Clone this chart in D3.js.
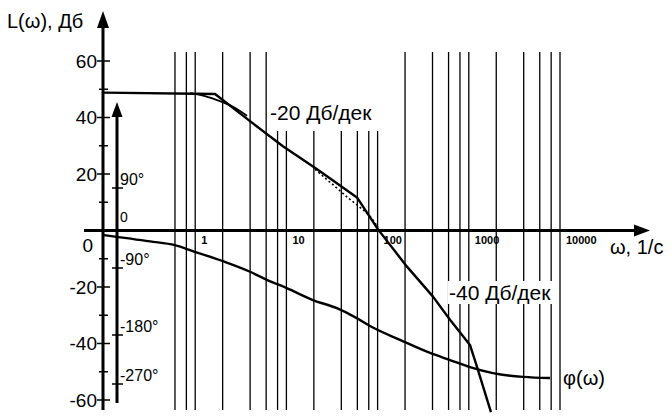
<!DOCTYPE html>
<html><head><meta charset="utf-8">
<script src="https://cdn.jsdelivr.net/npm/d3@7"></script>
<style>body{margin:0;background:#fff} svg{display:block} text{font-family:"Liberation Sans",Arial,sans-serif;fill:#000}</style>
</head><body><svg id="c" width="671" height="419"></svg>
<script>
// ---- data ----
const gridOmega = [0.6, 0.8, 1, 2, 4, 6, 8, 10, 20, 40, 60, 80, 100, 200, 400, 600, 800, 1000, 2000, 4000, 6000, 8000, 10000];
const decadeValues = [1, 10, 100, 1000, 10000];
const decadeLabels = ["1", "10", "100", "1000", "10000"];
const lMajorTicks = [60, 40, 20, 0, -20, -40, -60];
const lMinorTicks = [50, 30, 10, -10, -30, -50];
const phiTicks = [90, 0, -90, -180, -270];
const phiTickLabels = ["90°", "0", "-90°", "-180°", "-270°"];

// asymptotic LAFC
const asymOmega = [0.1, 1.65, 3.99, 9.16, 21.7, 59.4, 101, 210, 405, 622, 1030, 1230, 1750];
const asymL     = [48.8, 48.3, 38.7, 29.8, 21.7, 11.7, 0.4, -12.8, -23.4, -31.6, -40.5, -48.3, -64.3];
// true curve near first corner
const trueOmega = [0.88, 1.28, 1.87, 2.6, 3.7];
const trueL     = [48.6, 47.6, 45.8, 43.8, 40.6];
// true curve near second corner (dotted)
const dotOmega = [20.6, 25.2, 34.1, 49.8, 64.1, 82.5, 101];
const dotL     = [21.7, 19.2, 15.6, 11.0, 8.2, 5.0, 1.1];
// phase
const phiOmega = [0.1, 0.32, 0.6, 0.97, 2.02, 3.99, 6.12, 10.1, 19.5, 35.8, 56.4, 82.5, 176, 376, 622, 1030, 1840, 3930, 7760];
const phiDeg   = [-12, -27, -36, -51, -74, -95, -106, -117, -133, -144, -156, -168, -189, -213, -226, -239, -250, -257, -259];

// ---- scales ----
const svg = d3.select("#c");
const x = d3.scaleLog().domain([0.1, 10000]).range([104, 560]);
const yL = d3.scaleLinear().domain([-60, 60]).range([400, 61]);
const yPhi = d3.scaleLinear().domain(phiTicks).range([188, 230, 268, 335, 384]);

// grid
svg.append("g").selectAll("line").data(gridOmega).join("line")
  .attr("x1", d => x(d)).attr("x2", d => x(d))
  .attr("y1", 52).attr("y2", 410)
  .attr("stroke", "#000").attr("stroke-width", 1.3);

// label backgrounds
const bg = svg.append("g");
bg.append("rect").attr("x", 271).attr("y", 48).attr("width", 111).attr("height", 83).attr("fill", "#fff");

// curves
const line = d3.line();
function pts(om, v, ys) { return om.map((o, i) => [x(o), ys(v[i])]); }

svg.append("path").attr("d", d3.line().curve(d3.curveMonotoneX)(pts(phiOmega, phiDeg, yPhi)))
  .attr("fill", "none").attr("stroke", "#000").attr("stroke-width", 2.4);
svg.append("path").attr("d", line(pts(asymOmega, asymL, yL)))
  .attr("fill", "none").attr("stroke", "#000").attr("stroke-width", 2.4).attr("stroke-linejoin", "round");
svg.append("path").attr("d", d3.line().curve(d3.curveMonotoneX)(pts(trueOmega, trueL, yL)))
  .attr("fill", "none").attr("stroke", "#000").attr("stroke-width", 1.8);
svg.append("path").attr("d", d3.line().curve(d3.curveMonotoneX)(pts(dotOmega, dotL, yL)))
  .attr("fill", "none").attr("stroke", "#000").attr("stroke-width", 1.6).attr("stroke-dasharray", "2,2.5");

// x axis
const y0 = yL(0);
svg.append("line").attr("x1", 84).attr("x2", 636).attr("y1", y0).attr("y2", y0)
  .attr("stroke", "#000").attr("stroke-width", 3);
svg.append("path").attr("d", `M650,${y0} L634,${y0-6} L634,${y0+6} Z`).attr("fill", "#000");
svg.append("g").selectAll("text").data(decadeValues).join("text")
  .attr("x", d => x(d) + 6).attr("y", y0 + 13)
  .attr("font-size", 11).attr("font-weight", "bold")
  .text((d, i) => decadeLabels[i]);

// L axis
svg.append("line").attr("x1", 103).attr("x2", 103).attr("y1", 410).attr("y2", 24)
  .attr("stroke", "#000").attr("stroke-width", 3);
svg.append("path").attr("d", "M103,11 L97,28 L109,28 Z").attr("fill", "#000");
svg.append("g").selectAll("line").data(lMajorTicks).join("line")
  .attr("x1", 97).attr("x2", 110).attr("y1", d => yL(d)).attr("y2", d => yL(d))
  .attr("stroke", "#000").attr("stroke-width", 1.5);
svg.append("g").selectAll("line").data(lMinorTicks).join("line")
  .attr("x1", 99).attr("x2", 108).attr("y1", d => yL(d)).attr("y2", d => yL(d))
  .attr("stroke", "#000").attr("stroke-width", 1.5);
svg.append("g").selectAll("text").data(lMajorTicks).join("text")
  .attr("x", d => d === 0 ? 93 : 97)
  .attr("y", d => d === 0 ? yL(d) + 15 : yL(d))
  .attr("dy", "0.35em").attr("text-anchor", "end").attr("font-size", 19)
  .text(d => d);

// phi axis
svg.append("line").attr("x1", 117).attr("x2", 117).attr("y1", 403).attr("y2", 112)
  .attr("stroke", "#000").attr("stroke-width", 3);
svg.append("path").attr("d", "M117,102 L111.5,117 L122.5,117 Z").attr("fill", "#000");
svg.append("g").selectAll("line").data(phiTicks).join("line")
  .attr("x1", 112).attr("x2", 123).attr("y1", d => yPhi(d)).attr("y2", d => yPhi(d))
  .attr("stroke", "#000").attr("stroke-width", 1.5);
svg.append("g").selectAll("text").data(phiTicks).join("text")
  .attr("x", 120).attr("y", d => yPhi(d) - (d === 0 ? 8 : 3))
  .attr("font-size", d => d === 0 ? 14 : 16)
  .text((d, i) => phiTickLabels[i]);

// titles and annotations
svg.append("text").attr("x", 7).attr("y", 28).attr("font-size", 20).text("L(ω), Дб");
svg.append("text").attr("x", 270).attr("y", 120).attr("font-size", 21).text("-20 Дб/дек");
const t40 = svg.append("text").attr("x", 449).attr("y", 300).attr("font-size", 21).text("-40 Дб/дек");
const bb = t40.node().getBBox();
bg.append("rect").attr("x", bb.x - 1).attr("y", bb.y).attr("width", bb.width + 2).attr("height", bb.height).attr("fill", "#fff");
svg.append("text").attr("x", 610).attr("y", 254).attr("font-size", 20).text("ω, 1/с");
svg.append("text").attr("x", 563).attr("y", 385).attr("font-size", 20).text("φ(ω)");
</script></body></html>
